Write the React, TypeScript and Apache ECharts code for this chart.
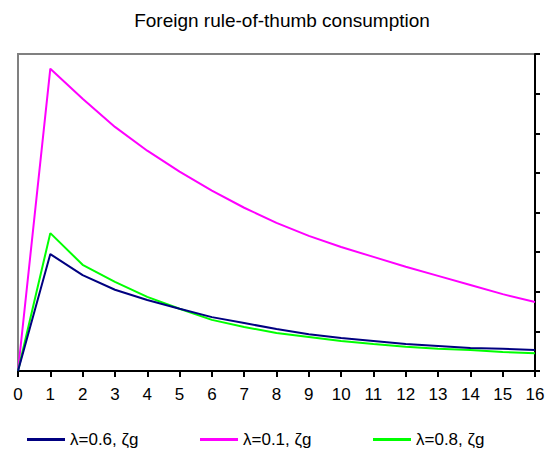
import React, { useEffect, useRef } from "react";
import * as echarts from "echarts";

const periods = [0, 1, 2, 3, 4, 5, 6, 7, 8, 9, 10, 11, 12, 13, 14, 15, 16];
const seriesNames = ["λ=0.6, ζg", "λ=0.1, ζg", "λ=0.8, ζg"];
const blueValues = [0, 2.95, 2.42, 2.05, 1.79, 1.57, 1.36, 1.21, 1.06, 0.93, 0.83, 0.76, 0.68, 0.63, 0.58, 0.56, 0.53];
const magentaValues = [0, 7.63, 6.87, 6.16, 5.56, 5.03, 4.55, 4.12, 3.74, 3.41, 3.13, 2.88, 2.63, 2.4, 2.17, 1.94, 1.74];
const greenValues = [0, 3.48, 2.68, 2.25, 1.87, 1.57, 1.29, 1.11, 0.96, 0.86, 0.76, 0.68, 0.61, 0.56, 0.53, 0.48, 0.45];
const colors = ["#000080", "#ff00ff", "#00ff00"];

const FONT = "Liberation Sans, Arial, sans-serif";

export default function App() {
  const ref = useRef<HTMLDivElement>(null);
  useEffect(() => {
    if (!ref.current) return;
    const chart = echarts.init(ref.current, null, { renderer: "svg" });
    const all = [blueValues, magentaValues, greenValues];
    const legendLefts = [27, 200, 373];
    chart.setOption({
      animation: false,
      backgroundColor: "#ffffff",
      title: {
        text: "Foreign rule-of-thumb consumption",
        left: 277,
        textAlign: "center",
        top: 6,
        textStyle: { fontSize: 19, fontWeight: "normal", color: "#000", fontFamily: FONT },
      },
      grid: { left: 18, right: 13, top: 54, bottom: 87, show: true, borderColor: "#808080", borderWidth: 2, backgroundColor: "transparent" },
      legend: seriesNames.map((name, i) => ({
        top: 431,
        left: legendLefts[i],
        padding: 0,
        icon: "rect",
        itemWidth: 38,
        itemHeight: 3,
        itemGap: 0,
        textStyle: { fontSize: 17, color: "#000", fontFamily: FONT },
        data: [name],
      })),
      xAxis: {
        type: "value",
        min: 0,
        max: 16,
        interval: 1,
        axisLine: { show: true, onZero: false, lineStyle: { color: "#000", width: 2 } },
        axisTick: { show: true, length: 6, lineStyle: { color: "#000", width: 2 } },
        axisLabel: { fontSize: 17, color: "#000", margin: 15, fontFamily: FONT },
        splitLine: { show: false },
      },
      yAxis: {
        type: "value",
        position: "right",
        min: 0,
        max: 8,
        interval: 1,
        axisLine: { show: true, onZero: false, lineStyle: { color: "#000", width: 2 } },
        axisTick: { show: true, length: 5, lineStyle: { color: "#000", width: 2 } },
        axisLabel: { show: false },
        splitLine: { show: false },
      },
      series: all.map((vals, i) => ({
        name: seriesNames[i],
        type: "line",
        data: periods.map((p, j) => [p, vals[j]]),
        showSymbol: false,
        symbol: "none",
        lineStyle: { color: colors[i], width: 2 },
        itemStyle: { color: colors[i] },
        z: i === 0 ? 3 : 2,
      })),
    });
    return () => chart.dispose();
  }, []);
  return <div ref={ref} style={{ position: "fixed", left: 0, top: 0, width: 548, height: 458 }} />;
}
